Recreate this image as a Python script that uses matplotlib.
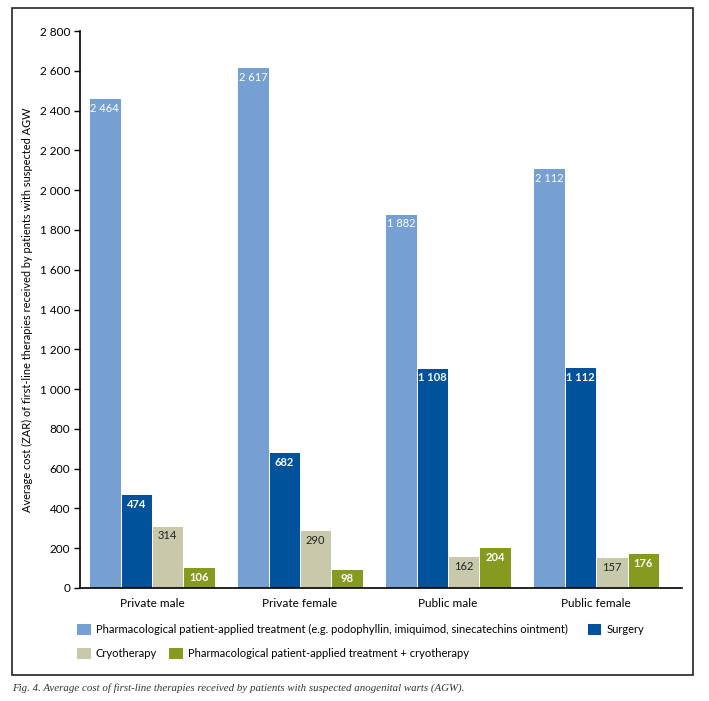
import matplotlib.pyplot as plt
import numpy as np
from matplotlib.patches import Rectangle

plt.rcParams['font.family'] = ['Lato', 'DejaVu Sans']

groups = ['Private male', 'Private female', 'Public male', 'Public female']
series = ['Pharmacological patient-applied treatment (e.g. podophyllin, imiquimod, sinecatechins ointment)',
          'Surgery',
          'Cryotherapy',
          'Pharmacological patient-applied treatment + cryotherapy']
pharma = [2464, 2617, 1882, 2112]
surgery = [474, 682, 1108, 1112]
cryo = [314, 290, 162, 157]
combo = [106, 98, 204, 176]
yticks = [0, 200, 400, 600, 800, 1000, 1200, 1400, 1600, 1800, 2000, 2200, 2400, 2600, 2800]

colors = ['#769fd2', '#00529b', '#c8c8aa', '#869a20']
label_colors = ['white', 'white', '#222222', 'white']
label_weights = ['normal', 'bold', 'normal', 'bold']

fig = plt.figure(figsize=(7.09, 7.01), dpi=100)
ax = fig.add_axes([80 / 709, 113 / 701, 602 / 709, 557 / 701])

x = np.arange(len(groups))
width = 0.212
bars = []
for i, vals in enumerate([pharma, surgery, cryo, combo]):
    b = ax.bar(x + (i - 1.5) * width, vals, width, color=colors[i],
               edgecolor='white', linewidth=0.7, label=series[i])
    bars.append(b)
    for rect, v in zip(b, vals):
        ax.annotate(f"{v:,}".replace(",", " "),
                    (rect.get_x() + rect.get_width() / 2, rect.get_height()),
                    xytext=(0, -3.5), textcoords='offset points',
                    ha='center', va='top', fontsize=8,
                    color=label_colors[i], fontweight=label_weights[i])

ax.set_xlim(-0.486, 3.58)
ax.set_ylim(0, 2800)
ax.set_yticks(yticks)
ax.set_yticklabels([f"{t:,}".replace(",", " ") for t in yticks], fontsize=8.5)
ax.set_xticks(x)
ax.set_xticklabels(groups, fontsize=8.5)
ax.tick_params(axis='x', length=0, pad=7)
ax.tick_params(axis='y', length=4, width=1, pad=3)
for s in ['top', 'right']:
    ax.spines[s].set_visible(False)
for s in ['left', 'bottom']:
    ax.spines[s].set_linewidth(1.2)
ax.set_ylabel('Average cost (ZAR) of first-line therapies received by patients with suspected AGW',
              fontsize=7.9, labelpad=5)

# legend rows
leg_kw = dict(ncol=2, loc='center left', frameon=False, fontsize=8,
              handlelength=1.3, handleheight=1.2, handletextpad=0.45,
              borderaxespad=0)
fig.legend([bars[0], bars[1]], [series[0], series[1]],
           bbox_to_anchor=(72 / 709, 1 - 629 / 701), columnspacing=1.7, **leg_kw)
fig.legend([bars[2], bars[3]], [series[2], series[3]],
           bbox_to_anchor=(72 / 709, 1 - 653 / 701), columnspacing=1.0, **leg_kw)

fig.add_artist(Rectangle((12 / 709, 1 - 675 / 701), 681 / 709, 667 / 701,
                         transform=fig.transFigure, fill=False,
                         edgecolor='#222222', linewidth=1.2))
fig.text(12 / 709, 1 - 688 / 701,
         'Fig. 4. Average cost of first-line therapies received by patients with suspected anogenital warts (AGW).',
         family='Liberation Serif', style='italic', fontsize=7.8, va='center', color='#333333')

fig.savefig('out.png', dpi=100)
